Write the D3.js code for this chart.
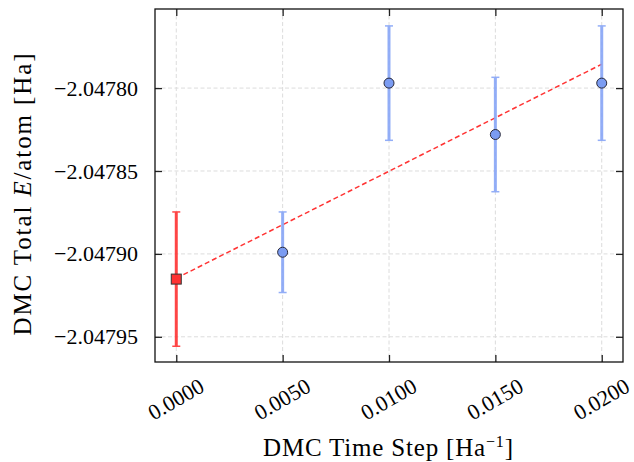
<!DOCTYPE html>
<html>
<head>
<meta charset="utf-8">
<script src="https://cdn.jsdelivr.net/npm/d3@7"></script>
<style>
  body { margin: 0; background: #fff; }
  svg { font-family: "Liberation Serif", "DejaVu Serif", serif; }
  .tick text { font-size: 22px; fill: #000; }
  .axis-label { font-size: 25px; fill: #000; }
</style>
</head>
<body>
<svg width="634" height="462"></svg>
<script>
  // time steps and energies
  const timeSteps = [0.005, 0.010, 0.015, 0.020];
  const energies = [-2.047899, -2.047797, -2.047828, -2.047797];
  const errors = [0.0000243, 0.0000345, 0.0000345, 0.0000345];

  // extrapolated value at zero time step
  const extrapStep = 0.0;
  const extrapEnergy = -2.0479152;
  const extrapError = 0.0000405;

  // linear fit end points
  const fitSteps = [0.0, 0.020];
  const fitEnergies = [-2.0479147, -2.0477856];

  const xTicks = [0.0, 0.005, 0.010, 0.015, 0.020];
  const yTicks = [-2.04795, -2.04790, -2.04785, -2.04780];

  const svg = d3.select('svg');
  const width = +svg.attr('width');
  const height = +svg.attr('height');
  const margin = {top: 9, right: 11, bottom: 100, left: 155};
  const innerWidth = width - margin.left - margin.right;
  const innerHeight = height - margin.top - margin.bottom;

  const blue = '#7b9cf2';
  const blueBar = '#88a6f7';
  const red = '#ff3333';

  const xScale = d3.scaleLinear()
    .domain([-0.001, 0.021])
    .range([0, innerWidth]);

  const yScale = d3.scaleLinear()
    .domain([-2.0479652, -2.0477523])
    .range([innerHeight, 0]);

  const g = svg.append('g')
    .attr('transform', `translate(${margin.left}, ${margin.top})`);

  // grid
  g.append('g').selectAll('line').data(xTicks)
    .enter().append('line')
      .attr('x1', d => xScale(d)).attr('x2', d => xScale(d))
      .attr('y1', 0).attr('y2', innerHeight)
      .attr('stroke', '#dcdcdc').attr('stroke-width', 1)
      .attr('stroke-dasharray', '4,2.5');
  g.append('g').selectAll('line').data(yTicks)
    .enter().append('line')
      .attr('y1', d => yScale(d)).attr('y2', d => yScale(d))
      .attr('x1', 0).attr('x2', innerWidth)
      .attr('stroke', '#dcdcdc').attr('stroke-width', 1)
      .attr('stroke-dasharray', '4,2.5');

  const fmtX = d3.format('.4f');
  const fmtY = d => d3.format('.5f')(d).replace('-', '\u2212');

  // axes with inward ticks
  const xAxisG = g.append('g')
    .attr('transform', `translate(0, ${innerHeight})`)
    .call(d3.axisBottom(xScale).tickValues(xTicks).tickSize(-7).tickFormat(fmtX));
  xAxisG.selectAll('.tick text')
    .attr('y', 0).attr('dy', '0.35em')
    .attr('text-anchor', 'middle')
    .attr('transform', 'translate(-1, 37) rotate(-30)');

  const xTopG = g.append('g')
    .call(d3.axisTop(xScale).tickValues(xTicks).tickSize(-7).tickFormat(''));

  const yAxisG = g.append('g')
    .call(d3.axisLeft(yScale).tickValues(yTicks).tickSize(-7).tickPadding(17).tickFormat(fmtY));

  const yRightG = g.append('g')
    .attr('transform', `translate(${innerWidth}, 0)`)
    .call(d3.axisRight(yScale).tickValues(yTicks).tickSize(-7).tickFormat(''));

  [xTopG, yRightG].forEach(a => a.selectAll('.tick text').remove());

  [xAxisG, xTopG, yAxisG, yRightG].forEach(a => {
    a.attr('font-family', null).attr('font-size', null);
    a.select('.domain').remove();
    a.selectAll('.tick line').attr('stroke', '#222').attr('stroke-width', 1.3);
  });

  // fit line
  g.append('path')
    .datum(d3.zip(fitSteps, fitEnergies))
    .attr('d', d3.line().x(d => xScale(d[0])).y(d => yScale(d[1])))
    .attr('fill', 'none')
    .attr('stroke', red)
    .attr('stroke-width', 1.5)
    .attr('stroke-dasharray', '5,3');

  // error bars
  const bars = timeSteps.map((t, i) => ({x: t, y: energies[i], e: errors[i], c: blueBar}));
  bars.unshift({x: extrapStep, y: extrapEnergy, e: extrapError, c: red});

  const barG = g.append('g').selectAll('g').data(bars).enter().append('g')
    .attr('opacity', 0.9);
  barG.append('line')
    .attr('x1', d => xScale(d.x)).attr('x2', d => xScale(d.x))
    .attr('y1', d => yScale(d.y + d.e)).attr('y2', d => yScale(d.y - d.e))
    .attr('stroke', d => d.c).attr('stroke-width', 3);
  [1, -1].forEach(s => {
    barG.append('line')
      .attr('x1', d => xScale(d.x) - 4).attr('x2', d => xScale(d.x) + 4)
      .attr('y1', d => yScale(d.y + s * d.e)).attr('y2', d => yScale(d.y + s * d.e))
      .attr('stroke', d => d.c).attr('stroke-width', 1.5);
  });

  // markers
  g.selectAll('circle').data(timeSteps)
    .enter().append('circle')
      .attr('cx', d => xScale(d))
      .attr('cy', (d, i) => yScale(energies[i]))
      .attr('r', 5)
      .attr('fill', blue)
      .attr('stroke', '#2a2a3a')
      .attr('stroke-width', 1);

  g.append('rect')
    .attr('x', xScale(extrapStep) - 5)
    .attr('y', yScale(extrapEnergy) - 5)
    .attr('width', 10).attr('height', 10)
    .attr('fill', red)
    .attr('stroke', '#333')
    .attr('stroke-width', 1);

  // frame
  g.append('rect')
    .attr('width', innerWidth).attr('height', innerHeight)
    .attr('fill', 'none').attr('stroke', '#111').attr('stroke-width', 1.3);

  // labels
  g.append('text')
    .attr('class', 'axis-label')
    .attr('x', innerWidth / 2 - 1)
    .attr('y', innerHeight + 94)
    .attr('text-anchor', 'middle')
    .attr('textLength', 250)
    .html('DMC Time Step [Ha<tspan dy="-9" font-size="16">\u22121</tspan><tspan dy="9">]</tspan>');

  g.append('text')
    .attr('class', 'axis-label')
    .attr('transform', 'rotate(-90)')
    .attr('x', -innerHeight / 2 - 9)
    .attr('y', -124)
    .attr('text-anchor', 'middle')
    .attr('textLength', 282)
    .html('DMC Total <tspan font-style="italic">E</tspan>/atom [Ha]');
</script>
</body>
</html>
